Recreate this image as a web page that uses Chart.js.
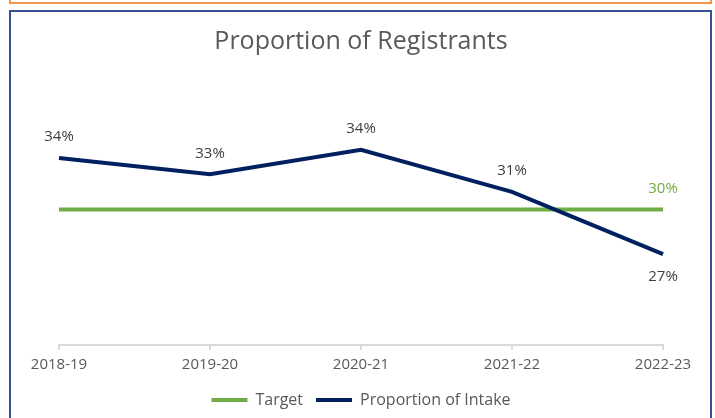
<!DOCTYPE html>
<html>
<head>
<meta charset="utf-8">
<script src="https://cdn.jsdelivr.net/npm/chart.js@4"></script>
<style>
    html, body { margin: 0; padding: 0; background: #fff; overflow: hidden; }
    #wrap { position: relative; width: 715px; height: 418px; }
    #topBox { position: absolute; left: 9px; top: -20px; width: 699px; height: 20px; border: 2px solid #f4934a; }
    #frame { position: absolute; left: 9px; top: 10px; width: 699px; height: 420px; border: 2px solid #34508f; }
    canvas { position: absolute; left: 0; top: 0; }
</style>
</head>
<body>
<div id="wrap">
    <div id="topBox"></div>
    <div id="frame"></div>
    <canvas id="regChart" width="715" height="418"></canvas>
</div>
<script>
const years = ['2018-19', '2019-20', '2020-21', '2021-22', '2022-23'];
const target = [0.30, 0.30, 0.30, 0.30, 0.30];
const proportion = [0.338, 0.326, 0.344, 0.313, 0.267];

const FONT = "'Open Sans', 'Noto Sans', sans-serif";

// draws the % labels next to the points
const pointLabels = {
    id: 'pointLabels',
    afterDatasetsDraw(chart) {
        const ctx = chart.ctx;
        ctx.save();
        ctx.font = '15px ' + FONT;
        ctx.textAlign = 'center';
        ctx.textBaseline = 'middle';
        chart.data.datasets.forEach((ds, i) => {
            const meta = chart.getDatasetMeta(i);
            meta.data.forEach((pt, j) => {
                if (ds.label === 'Target' && j !== ds.data.length - 1) return;
                let text = Math.round(ds.data[j] * 100) + '%';
                let dy = -21;
                if (ds.label !== 'Target' && j === ds.data.length - 1) dy = 23;
                ctx.fillStyle = ds.label === 'Target' ? '#70ad47' : '#404040';
                ctx.fillText(text, pt.x, pt.y + dy);
            });
        });
        ctx.restore();
    }
};

window.onload = function () {
    const ctx = document.getElementById('regChart').getContext('2d');
    new Chart(ctx, {
        type: 'line',
        data: {
            labels: years,
            datasets: [{
                label: 'Target',
                data: target,
                borderColor: '#70ad47',
                backgroundColor: '#70ad47',
                borderWidth: 4,
                pointRadius: 0,
                order: 1
            }, {
                label: 'Proportion of Intake',
                data: proportion,
                borderColor: '#002060',
                backgroundColor: '#002060',
                borderWidth: 4,
                pointRadius: 0,
                order: 0
            }]
        },
        options: {
            responsive: false,
            animation: false,
            layout: { padding: { left: 59, right: 52, top: 11, bottom: 0 } },
            plugins: {
                title: {
                    display: true,
                    text: 'Proportion of Registrants',
                    color: '#595959',
                    font: { family: FONT, size: 25, weight: 'normal' },
                    padding: { top: 16, bottom: 17 }
                },
                legend: {
                    position: 'bottom',
                    labels: {
                        color: '#595959',
                        font: { family: FONT, size: 16 },
                        boxWidth: 36,
                        boxHeight: 4,
                        padding: 13,
                        sort: (a, b) => a.datasetIndex - b.datasetIndex,
                        generateLabels(chart) {
                            return chart.data.datasets.map((ds, i) => ({
                                text: ds.label,
                                fillStyle: ds.borderColor,
                                strokeStyle: ds.borderColor,
                                lineWidth: 0,
                                datasetIndex: i,
                                fontColor: '#595959'
                            }));
                        }
                    }
                },
                tooltip: { enabled: false }
            },
            scales: {
                x: {
                    grid: { display: true, drawOnChartArea: false, tickLength: 5, color: '#d9d9d9', lineWidth: 2 },
                    border: { color: '#d9d9d9', width: 2 },
                    ticks: { color: '#595959', font: { family: FONT, size: 15 }, padding: 6, maxRotation: 0 },
                    afterFit(scale) { scale.height = 34; }
                },
                y: {
                    display: false,
                    min: 0.2,
                    max: 0.4
                }
            }
        },
        plugins: [pointLabels]
    });
};
</script>
</body>
</html>
